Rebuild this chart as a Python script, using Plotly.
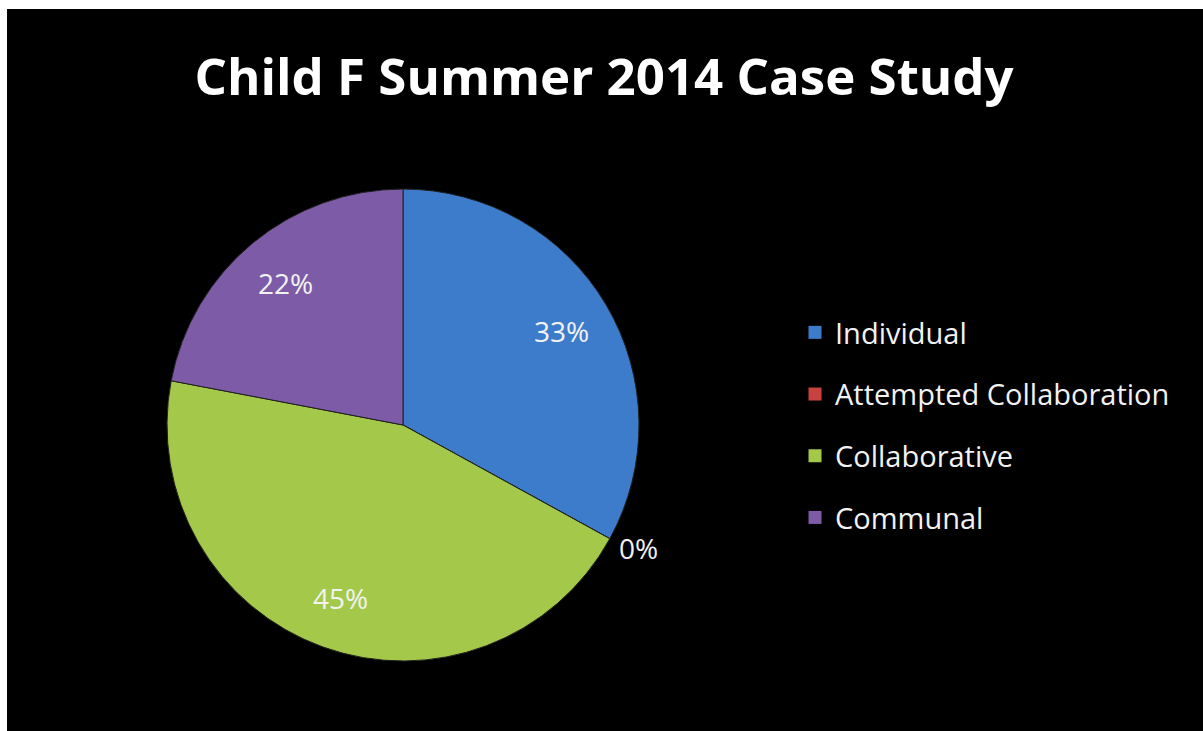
import math
import plotly.graph_objects as go

W, H = 1203, 731

# Share of observed play by type
categories = ["Individual", "Attempted Collaboration", "Collaborative", "Communal"]
shares = [33, 0, 45, 22]
slice_colors = ["#3D7CCA", "#C8423F", "#A4C94A", "#7D5BA6"]

title_text = "Child F Summer 2014 Case Study"

# pie placement (pixels)
cx, cy, rad = 403, 425, 236

fig = go.Figure()

fig.add_trace(go.Pie(
    labels=categories,
    values=shares,
    sort=False,
    direction="clockwise",
    rotation=0,
    marker=dict(colors=slice_colors, line=dict(color="#202020", width=1)),
    textinfo="none",
    showlegend=False,
    hoverinfo="label+percent",
    domain=dict(x=[(cx - rad) / W, (cx + rad) / W],
                y=[1 - (cy + rad) / H, 1 - (cy - rad) / H]),
))

# percentage labels: placed on each slice's mid-angle, empty slices just outside the rim
total = sum(shares)
annotations = []
start = 0.0
for val in shares:
    frac = val / total
    mid = (start + frac / 2) * 2 * math.pi
    r = rad * (0.78 if val > 0 else 1.08)
    px = cx + r * math.sin(mid)
    py = cy - r * math.cos(mid)
    if val == 0:
        px += 12
    annotations.append(dict(
        x=px / W, y=1 - py / H, xref="paper", yref="paper",
        text=f"{round(frac * 100)}%", showarrow=False,
        xanchor="center", yanchor="middle",
        font=dict(family="Open Sans", size=28, color="#F2F2F2"),
    ))
    start += frac

# legend entries, one group each so the gap between rows can be set
for name, col in zip(categories, slice_colors):
    fig.add_trace(go.Scatter(
        x=[None], y=[None], mode="markers", name=name,
        legendgroup=name,
        marker=dict(symbol="square", size=13, color=col,
                    line=dict(color="#111111", width=0)),
    ))

fig.update_layout(
    width=W, height=H,
    margin=dict(l=0, r=0, t=0, b=0),
    paper_bgcolor="white",
    plot_bgcolor="rgba(0,0,0,0)",
    xaxis=dict(visible=False),
    yaxis=dict(visible=False),
    title=dict(text=title_text, x=604 / W, xanchor="center",
               y=1 - 77 / H, yanchor="middle",
               font=dict(family="Open Sans", size=51, color="white", weight="bold")),
    legend=dict(x=795 / W, xanchor="left", y=1 - 307 / H, yanchor="top",
                font=dict(family="Open Sans", size=29, color="#F2F2F2"),
                tracegroupgap=21, bgcolor="rgba(0,0,0,0)"),
    annotations=annotations,
    shapes=[dict(type="rect", xref="paper", yref="paper",
                 x0=7 / W, x1=1, y0=0, y1=1 - 9 / H,
                 fillcolor="black", line=dict(width=0), layer="below")],
)

fig.write_html("out.html")
